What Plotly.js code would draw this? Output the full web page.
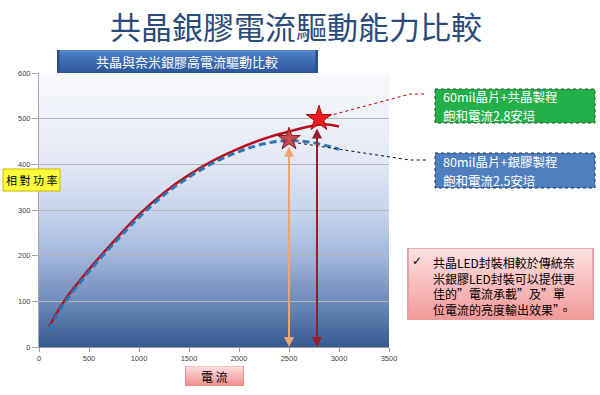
<!DOCTYPE html>
<html><head><meta charset="utf-8">
<script src="https://cdn.plot.ly/plotly-3.0.1.min.js"></script>
<style>html,body{margin:0;padding:0;background:#fff;}#c{width:600px;height:395px;}</style>
</head><body><div id="c"></div>
<script>
// ---- data ----
const currentX   = [100, 250, 500, 750, 1000, 1250, 1500, 1750, 2000, 2250, 2500, 2750, 2850, 3000];
const eutecticY  = [44, 100, 170, 232, 290, 338, 377, 409, 435, 456, 472, 485, 488, 483];
const blueCurX   = [100, 250, 500, 750, 1000, 1250, 1500, 1750, 2000, 2250, 2500, 2750, 3000];
const silverY    = [38, 95, 165, 227, 284, 333, 372, 404, 428, 445, 452, 447, 433];
const peakX      = [2500, 2800];
const peakY      = [455, 500];
const arrowX     = [2500, 2780];
const arrowTop   = [442, 482];
const xTicks     = [0, 500, 1000, 1500, 2000, 2500, 3000, 3500];
const yTicks     = [0, 100, 200, 300, 400, 500, 600];

const title    = '共晶銀膠電流驅動能力比較';
const subtitle = '共晶與奈米銀膠高電流驅動比較';
const yLabel   = '相 對 功 率';
const xLabel   = '電 流';
const note1    = ['60mil晶片+共晶製程', '飽和電流2.8安培'];
const note2    = ['80mil晶片+銀膠製程', '飽和電流2.5安培'];
const noteText = '共晶LED封裝相較於傳統奈<br>米銀膠LED封裝可以提供更<br>佳的”電流承載”及”單<br>位電流的亮度輸出效果”。';

// ---- layout helpers (pixel -> paper) ----
const L = 39, R = 389, T = 73, B = 347;
const px = x => (x - L) / (R - L);
const py = y => (B - y) / (B - T);
const CJK = '"Noto Sans CJK TC", "Noto Sans CJK SC", sans-serif';

function grad(stops, stroke) {
  let s = "<svg xmlns='http://www.w3.org/2000/svg' width='100' height='100' preserveAspectRatio='none'><defs><linearGradient id='g' x1='0' y1='0' x2='0' y2='1'>";
  stops.forEach(st => { s += "<stop offset='" + st[0] + "' stop-color='" + st[1] + "'/>"; });
  s += "</linearGradient></defs><rect x='0' y='0' width='100' height='100' fill='url(#g)'";
  if (stroke) s += " stroke='" + stroke + "' stroke-width='2' vector-effect='non-scaling-stroke'";
  s += "/></svg>";
  return 'data:image/svg+xml;charset=utf-8,' + encodeURIComponent(s);
}
function img(x0, y0, x1, y1, src, layer) {
  return {source: src, xref: 'paper', yref: 'paper', x: px(x0), y: py(y0),
    sizex: (x1 - x0) / (R - L), sizey: (y1 - y0) / (B - T),
    xanchor: 'left', yanchor: 'top', sizing: 'stretch', layer: layer || 'above'};
}
function label(text, x, y, font, extra) {
  return Object.assign({text: text, xref: 'paper', yref: 'paper', x: px(x), y: py(y),
    xanchor: 'center', yanchor: 'middle', showarrow: false, font: font}, extra || {});
}
function rect(x0, y0, x1, y1, fill, line) {
  return {type: 'rect', xref: 'paper', yref: 'paper', x0: px(x0), x1: px(x1), y0: py(y0), y1: py(y1),
    fillcolor: fill, line: line, layer: 'above'};
}

const traces = [
  {x: currentX, y: eutecticY, mode: 'lines', line: {color: '#b80f1f', width: 2.5, shape: 'spline'}, hoverinfo: 'none'},
  {x: blueCurX, y: silverY, mode: 'lines', line: {color: '#2e74b8', width: 3, dash: '7px,4px', shape: 'spline'}, hoverinfo: 'none'},
  {x: [peakX[0]], y: [peakY[0]], mode: 'markers', marker: {symbol: 'star', size: 17, color: 'rgba(190,50,50,0.85)', line: {color: '#8a1a1a', width: 1}}, hoverinfo: 'none'},
  {x: [peakX[1]], y: [peakY[1]], mode: 'markers', marker: {symbol: 'star', size: 19, color: '#ee1c1c', line: {color: '#a01010', width: 1}}, hoverinfo: 'none'}
];

const whiteFont = {family: CJK, size: 12.5, color: '#ffffff'};
const annotations = [
  label(title, 296, 26, {family: CJK, size: 31, color: '#2b4b7b'}),
  label(subtitle, 187, 61.5, {family: CJK, size: 13, color: '#ffffff'}),
  label(yLabel, 31.5, 180, {family: CJK, size: 11, color: '#000'}),
  label(xLabel, 214.5, 376, {family: CJK, size: 12, color: '#000'}),
  label(note1[0], 441, 96.5, whiteFont, {xanchor: 'left'}),
  label(note1[1], 441, 115.5, whiteFont, {xanchor: 'left'}),
  label(note2[0], 441, 161, whiteFont, {xanchor: 'left'}),
  label(note2[1], 441, 180, whiteFont, {xanchor: 'left'}),
  label('✓', 417, 261, {family: 'DejaVu Sans', size: 12, color: '#000'}),
  label(noteText, 431, 252, {family: CJK, size: 12, color: '#000'}, {xanchor: 'left', yanchor: 'top', align: 'left'})
];
// double-headed vertical arrows from the star points down to the axis
const arrowColors = ['#eda66e', '#9c1b2b'];
arrowX.forEach((xv, i) => {
  annotations.push({x: xv, y: 0, ax: xv, ay: arrowTop[i], xref: 'x', yref: 'y', axref: 'x', ayref: 'y',
    text: '', showarrow: true, arrowside: 'end+start', arrowhead: 2, startarrowhead: 2,
    arrowsize: 1, startarrowsize: 1, arrowwidth: 2, arrowcolor: arrowColors[i]});
});

const shapes = [
  rect(3, 169, 60, 191, '#ffff3a', {color: '#c8b400', width: 1}),
  rect(435, 89, 595, 123, '#23b04b', {color: '#3b4b2b', width: 1, dash: 'dot'}),
  rect(435, 153, 595, 188, '#4f7fbf', {color: '#23324f', width: 1, dash: 'dot'}),
  {type: 'path', xref: 'paper', yref: 'paper',
   path: 'M' + px(328) + ',' + py(116) + ' L' + px(410) + ',' + py(94) + ' L' + px(426) + ',' + py(94),
   line: {color: '#c00000', width: 1, dash: 'dot'}},
  {type: 'path', xref: 'paper', yref: 'paper',
   path: 'M' + px(298) + ',' + py(143) + ' L' + px(410) + ',' + py(160) + ' L' + px(426) + ',' + py(160),
   line: {color: '#111', width: 1, dash: 'dot'}}
];

const images = [
  img(L, T, R, B, grad([[0, '#f8f9fc'], [0.33, '#e2e8f4'], [0.5, '#c9d5eb'], [0.67, '#a2b6da'], [0.83, '#6f8cbb'], [1, '#365a90']]), 'below'),
  img(57, 50, 318, 73, grad([[0, '#6b97d6'], [0.15, '#4a7cc4'], [1, '#2b5699']], '#2a4f8a')),
  img(185, 366, 244, 386, grad([[0, '#ffe0e0'], [1, '#f18c8c']], '#e07a7a')),
  img(407, 248, 594, 320, grad([[0, '#fde2e2'], [1, '#f29898']], '#e2a0a0'))
];

const layout = {
  width: 600, height: 395,
  margin: {l: L, r: 600 - R, t: T, b: 395 - B, pad: 0},
  paper_bgcolor: '#ffffff', plot_bgcolor: 'rgba(0,0,0,0)',
  showlegend: false,
  xaxis: {range: [0, 3500], tickvals: xTicks, ticktext: xTicks.map(String), showgrid: false, zeroline: false,
    showline: true, linecolor: '#9a9a9a', ticks: 'outside', ticklen: 4, tickcolor: '#9a9a9a',
    tickfont: {family: 'Liberation Sans, Arial', size: 7.5, color: '#444'}, fixedrange: true},
  yaxis: {range: [0, 600], tickvals: yTicks, ticktext: yTicks.map(String), showgrid: true, gridcolor: '#b3b6bb', gridwidth: 1,
    zeroline: false, showline: true, linecolor: '#a8a8a8', ticks: 'outside', ticklen: 6, tickcolor: '#a8a8a8',
    tickfont: {family: 'Liberation Sans, Arial', size: 7.5, color: '#444'}, fixedrange: true},
  annotations: annotations, shapes: shapes, images: images
};

Plotly.newPlot('c', traces, layout, {displayModeBar: false, staticPlot: true});
</script></body></html>
